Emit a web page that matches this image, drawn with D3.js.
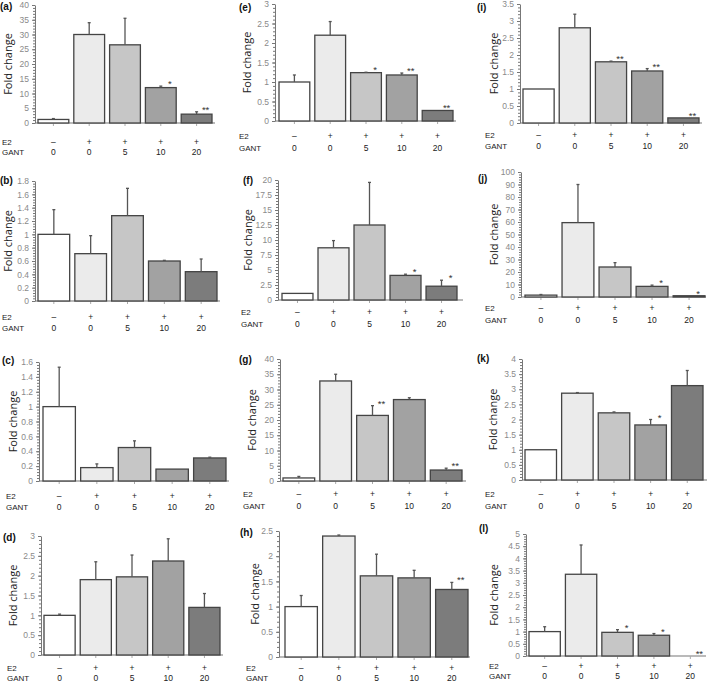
<!DOCTYPE html>
<html>
<head>
<meta charset="utf-8">
<script src="https://cdn.jsdelivr.net/npm/d3@7"></script>
<style>
  body { margin: 0; background: #fff; }
  svg { display: block; font-family: "Liberation Sans", Arial, sans-serif; }
  .tick text { fill: #8a8a8a; font-size: 8.5px; }
  .tick line, .domain { stroke: #777; }
</style>
</head>
<body>
<svg id="chart" width="709" height="682"></svg>
<script>
// panel ids and shared x categories
var panelIds = ["a", "b", "c", "d", "e", "f", "g", "h", "i", "j", "k", "l"];
var e2Signs = ["\u2013", "+", "+", "+", "+"];
var gantDoses = ["0", "0", "5", "10", "20"];

// y axis max and tick step per panel
var yMaxes = [40, 1.8, 1.6, 3, 3, 20, 40, 2.5, 3.5, 100, 4, 5];
var tickSteps = [5, 0.2, 0.2, 0.5, 0.5, 2.5, 5, 0.5, 0.5, 10, 0.5, 0.5];

// means, top of error bar, significance marks
var meansA = [1.2, 30, 26.5, 12, 3],      errA = [1.5, 34, 35.5, 12.5, 3.8],    starsA = ["", "", "", "*", "**"];
var meansB = [1, 0.71, 1.28, 0.6, 0.44],  errB = [1.37, 0.98, 1.69, 0.61, 0.63], starsB = ["", "", "", "", ""];
var meansC = [1, 0.18, 0.45, 0.16, 0.31], errC = [1.53, 0.23, 0.54, 0.16, 0.32], starsC = ["", "", "", "", ""];
var meansD = [1, 1.9, 1.97, 2.37, 1.2],   errD = [1.03, 2.35, 2.52, 2.93, 1.55], starsD = ["", "", "", "", ""];
var meansE = [1, 2.2, 1.24, 1.18, 0.27],  errE = [1.18, 2.55, 1.25, 1.23, 0.27], starsE = ["", "", "*", "**", "**"];
var meansF = [1.1, 8.7, 12.5, 4.1, 2.3],  errF = [1.1, 9.9, 19.6, 4.3, 3.3],    starsF = ["", "", "", "*", "*"];
var meansG = [1, 32.8, 21.5, 26.7, 3.6],  errG = [1.5, 35, 24.7, 27.3, 4.2],    starsG = ["", "", "**", "", "**"];
var meansH = [1, 2.4, 1.61, 1.57, 1.34],  errH = [1.22, 2.42, 2.04, 1.72, 1.48], starsH = ["", "", "", "", "**"];
var meansI = [1, 2.8, 1.8, 1.53, 0.15],   errI = [1, 3.2, 1.82, 1.6, 0.15],     starsI = ["", "", "**", "**", "**"];
var meansJ = [1.5, 59.5, 24, 8.5, 1],     errJ = [2, 90, 27.5, 9.5, 1],         starsJ = ["", "", "", "*", "*"];
var meansK = [1, 2.87, 2.22, 1.82, 3.12], errK = [1, 2.89, 2.25, 2.0, 3.62],    starsK = ["", "", "", "*", ""];
var meansL = [1, 3.35, 0.97, 0.85, 0],    errL = [1.2, 4.55, 1.08, 0.92, 0],    starsL = ["", "", "*", "*", "**"];

var means = [meansA, meansB, meansC, meansD, meansE, meansF, meansG, meansH, meansI, meansJ, meansK, meansL];
var errTops = [errA, errB, errC, errD, errE, errF, errG, errH, errI, errJ, errK, errL];
var stars = [starsA, starsB, starsC, starsD, starsE, starsF, starsG, starsH, starsI, starsJ, starsK, starsL];

var barFills = ["#ffffff", "#ebebeb", "#c6c6c6", "#a2a2a2", "#7c7c7c"];

// pixel layout of each panel (axis x, top, zero, bars left/right, axis end, E2 row, GANT row, label pos, y title x, row label x)
var layout = [
  {ax: 35,  top: 5,   y0: 123, bl: 38,  br: 212, xe: 215, e2: 145, ga: 155, lx: 0,   ly: 10,  fx: 8,   rx: 2},
  {ax: 35,  top: 181, y0: 301, bl: 38,  br: 217, xe: 220, e2: 320, ga: 331, lx: 0,   ly: 184, fx: 8,   rx: 2},
  {ax: 39,  top: 362, y0: 481, bl: 43,  br: 226, xe: 229, e2: 499, ga: 510, lx: 2,   ly: 364, fx: 13,  rx: 6},
  {ax: 41,  top: 536, y0: 655, bl: 44,  br: 220, xe: 223, e2: 671, ga: 681, lx: 3,   ly: 541, fx: 13,  rx: 7},
  {ax: 275, top: 4,   y0: 121, bl: 279, br: 453, xe: 456, e2: 139, ga: 151, lx: 239, ly: 11,  fx: 247, rx: 239},
  {ax: 278, top: 180, y0: 300, bl: 282, br: 457, xe: 463, e2: 315, ga: 327, lx: 243, ly: 184, fx: 248, rx: 241},
  {ax: 280, top: 359, y0: 481, bl: 283, br: 462, xe: 466, e2: 497, ga: 509, lx: 239, ly: 363, fx: 252, rx: 243},
  {ax: 279, top: 531, y0: 657, bl: 285, br: 468, xe: 470, e2: 671, ga: 681, lx: 240, ly: 536, fx: 255, rx: 246},
  {ax: 520, top: 4,   y0: 123, bl: 523, br: 699, xe: 702, e2: 138, ga: 149, lx: 477, ly: 11,  fx: 494, rx: 485},
  {ax: 521, top: 172, y0: 297, bl: 525, br: 705, xe: 706, e2: 311, ga: 323, lx: 478, ly: 182, fx: 494, rx: 485},
  {ax: 522, top: 359, y0: 480, bl: 525, br: 703, xe: 707, e2: 497, ga: 509, lx: 477, ly: 362, fx: 493, rx: 485},
  {ax: 526, top: 534, y0: 656, bl: 529, br: 706, xe: 706, e2: 669, ga: 679, lx: 479, ly: 532, fx: 494, rx: 489}
];

var svg = d3.select("#chart");
svg.append("rect").attr("width", 709).attr("height", 682).attr("fill", "#fff");

var fmt = d3.format("~g");

panelIds.forEach(function(id, p) {
  var L = layout[p];
  var g = svg.append("g").attr("class", "panel-" + id);

  var y = d3.scaleLinear().domain([0, yMaxes[p]]).range([L.y0, L.top]);
  var x = d3.scaleBand().domain(d3.range(5)).range([L.bl, L.br]).paddingInner(0.14);
  var cx = function(i) { return x(i) + x.bandwidth() / 2; };

  var step = tickSteps[p];
  var majors = d3.range(0, yMaxes[p] + step / 2, step);
  var minors = d3.range(0, yMaxes[p] + step / 10, step / 5);

  // minor ticks
  g.append("g")
    .attr("transform", "translate(" + L.ax + ",0)")
    .call(d3.axisLeft(y).tickValues(minors).tickSize(2).tickSizeOuter(0).tickFormat(""))
    .call(function(a) { a.select(".domain").remove(); });

  g.append("g")
    .attr("transform", "translate(" + L.ax + ",0)")
    .call(d3.axisLeft(y).tickValues(majors).tickFormat(fmt).tickSize(3).tickSizeOuter(0).tickPadding(3));

  // x baseline
  g.append("line")
    .attr("x1", L.ax).attr("x2", L.xe)
    .attr("y1", y(0)).attr("y2", y(0))
    .attr("stroke", "#777").attr("stroke-width", 1.2);

  g.selectAll(".xt").data(d3.range(5)).enter().append("line")
    .attr("x1", cx).attr("x2", cx)
    .attr("y1", y(0)).attr("y2", y(0) + 3)
    .attr("stroke", "#aaa");

  // bars
  var idx = d3.range(5).filter(function(i) { return means[p][i] > 0; });
  g.selectAll(".bar").data(idx).enter().append("rect")
    .attr("x", function(i) { return x(i); })
    .attr("y", function(i) { return y(means[p][i]); })
    .attr("width", x.bandwidth())
    .attr("height", function(i) { return y(0) - y(means[p][i]); })
    .attr("fill", function(i) { return barFills[i]; })
    .attr("stroke", "#444").attr("stroke-width", 1.3);

  // error bars (upper only)
  var errs = d3.range(5).filter(function(i) { return errTops[p][i] > means[p][i]; });
  errs.forEach(function(i) {
    g.append("line")
      .attr("x1", cx(i)).attr("x2", cx(i))
      .attr("y1", y(means[p][i])).attr("y2", y(errTops[p][i]))
      .attr("stroke", "#555").attr("stroke-width", 1.3);
    g.append("line")
      .attr("x1", cx(i) - 1.5).attr("x2", cx(i) + 1.5)
      .attr("y1", y(errTops[p][i])).attr("y2", y(errTops[p][i]))
      .attr("stroke", "#555").attr("stroke-width", 1.3);
  });

  // significance marks
  stars[p].forEach(function(s, i) {
    if (!s) return;
    g.append("text")
      .attr("x", cx(i) + 9)
      .attr("y", y(errTops[p][i]) + 1)
      .attr("text-anchor", "middle")
      .attr("font-size", 9.5).attr("fill", "#333")
      .text(s);
  });

  // E2 / GANT rows
  g.append("text").attr("x", L.rx).attr("y", L.e2).attr("font-size", 8).attr("fill", "#222").text("E2");
  g.append("text").attr("x", L.rx).attr("y", L.ga).attr("font-size", 8).attr("fill", "#222").text("GANT");
  e2Signs.forEach(function(s, i) {
    g.append("text").attr("x", cx(i)).attr("y", L.e2)
      .attr("text-anchor", "middle").attr("font-size", 8.5).attr("fill", "#222").text(s);
  });
  gantDoses.forEach(function(s, i) {
    g.append("text").attr("x", cx(i)).attr("y", L.ga)
      .attr("text-anchor", "middle").attr("font-size", 8.5).attr("fill", "#222").text(s);
  });

  // panel label and y title
  g.append("text").attr("x", L.lx).attr("y", L.ly)
    .attr("font-size", 10).attr("font-weight", "bold").attr("fill", "#111")
    .text("(" + id + ")");
  g.append("text")
    .attr("transform", "translate(" + (L.fx + 4) + "," + ((L.top + L.y0) / 2) + ") rotate(-90)")
    .attr("text-anchor", "middle")
    .attr("font-family", "'Open Sans', sans-serif")
    .attr("font-size", 11).attr("fill", "#222")
    .text("Fold change");
});
</script>
</body>
</html>
